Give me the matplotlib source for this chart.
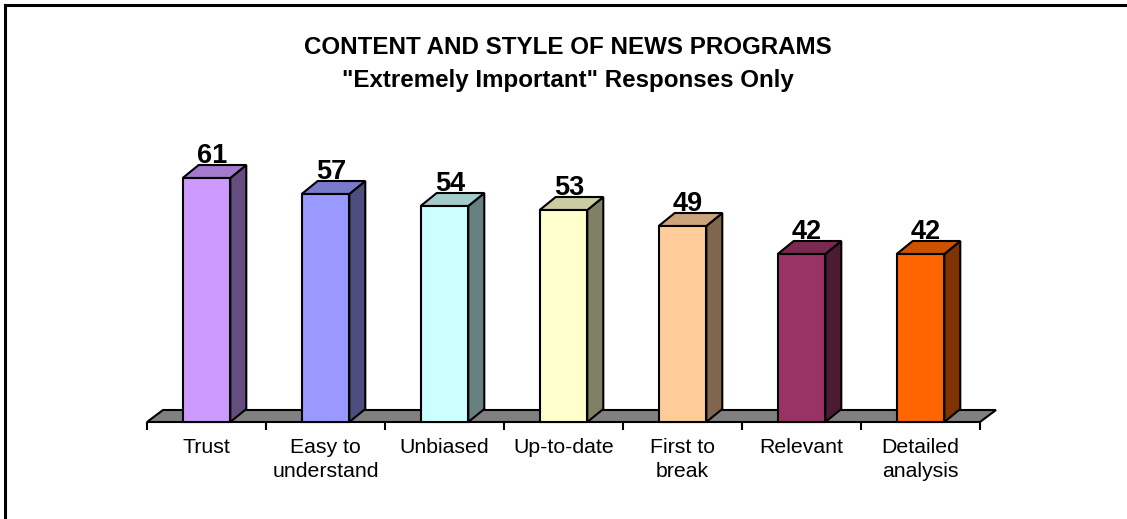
import numpy as np
import matplotlib.pyplot as plt
from matplotlib.patches import Polygon, Rectangle
from matplotlib.colors import to_rgb

plt.rcParams['font.family'] = ['Liberation Sans', 'DejaVu Sans']

categories = ['Trust', 'Easy to\nunderstand', 'Unbiased', 'Up-to-date',
              'First to\nbreak', 'Relevant', 'Detailed\nanalysis']
values = [61, 57, 54, 53, 49, 42, 42]
colors = ['#CC99FF', '#9999FF', '#CCFFFF', '#FFFFCC', '#FFCC99', '#993366', '#FF6600']

title = 'CONTENT AND STYLE OF NEWS PROGRAMS\n"Extremely Important" Responses Only'


def shade(c, f):
    r, g, b = to_rgb(c)
    return (r * f, g * f, b * f)


fig = plt.figure(figsize=(11.27, 5.19), dpi=100)
ax = fig.add_axes([147 / 1127, 97 / 519, 833 / 1127, 280 / 519])

x = np.arange(len(values))
w = 0.4
dx = 16 / 119      # depth offset in category units
dy = 3.25          # depth offset in value units

ax.set_xlim(-0.5, len(values) - 0.5)
ax.set_ylim(0, 70)

# floor
x0, x1 = -0.5, len(values) - 0.5
floor = Polygon([(x0, 0), (x1, 0), (x1 + dx, 3), (x0 + dx, 3)],
                closed=True, facecolor='#808080', edgecolor='black',
                lw=1.5, clip_on=False, zorder=1)
ax.add_patch(floor)

# 3d bars: side and top faces first, then the front
for xi, v, c in zip(x, values, colors):
    l, r = xi - w / 2, xi + w / 2
    side = Polygon([(r, 0), (r + dx, dy), (r + dx, v + dy), (r, v)],
                   closed=True, facecolor=shade(c, 0.5), edgecolor='black',
                   lw=1.5, clip_on=False, zorder=2)
    top = Polygon([(l, v), (r, v), (r + dx, v + dy), (l + dx, v + dy)],
                  closed=True, facecolor=shade(c, 0.8), edgecolor='black',
                  lw=1.5, clip_on=False, zorder=2)
    ax.add_patch(side)
    ax.add_patch(top)
    ax.text(xi + dx * 0.35, v + dy + 0.4, str(v), ha='center', va='baseline',
            fontsize=19.5, fontweight='bold', clip_on=False, zorder=3)

ax.bar(x, values, width=w, color=colors, edgecolor='black', lw=1.5, zorder=3,
       clip_on=False)

for s in ax.spines.values():
    s.set_visible(False)
ax.set_yticks([])
ax.set_xticks(x)
ax.set_xticklabels(categories, fontsize=15.3, linespacing=1.32)
ax.tick_params(axis='x', which='major', length=0, pad=11.5)
ax.set_xticks(np.arange(len(values) + 1) - 0.5, minor=True)
ax.tick_params(axis='x', which='minor', length=6, width=1.5, color='black')

fig.text(568 / 1127, 1 - 64 / 519, title, ha='center', va='center',
         fontsize=17.4, fontweight='bold', linespacing=1.6)

# chart border
fig.add_artist(Rectangle((5 / 1127, -0.5), 2, 1.5 - 5 / 519,
                         transform=fig.transFigure, fill=False,
                         edgecolor='black', lw=2.2))

fig.savefig('out.png', dpi=100)
